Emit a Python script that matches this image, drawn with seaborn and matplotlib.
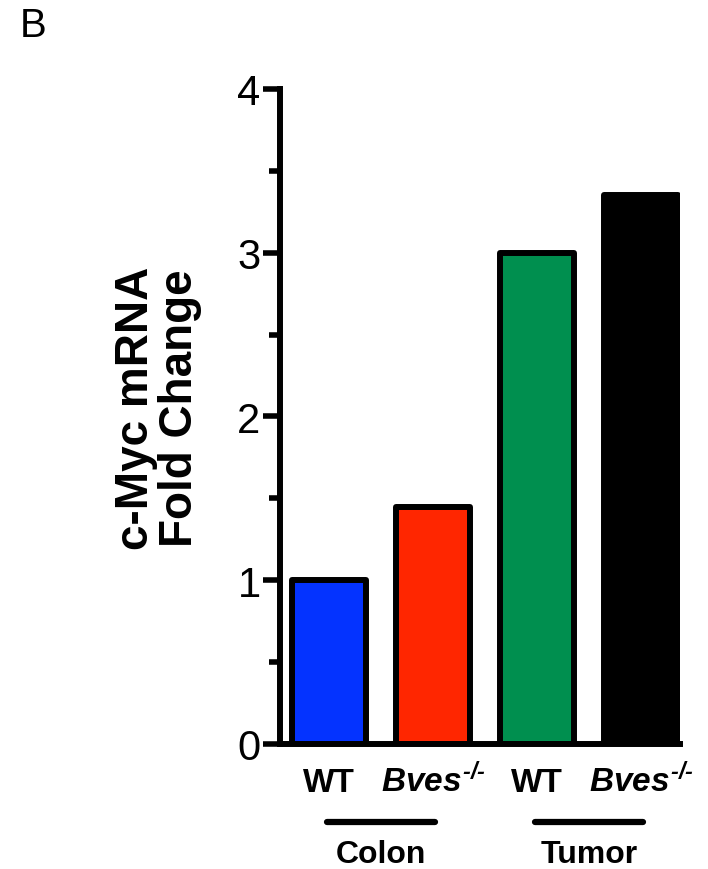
import matplotlib
matplotlib.use("Agg")
import matplotlib.pyplot as plt
import matplotlib.transforms as mtransforms
import seaborn as sns
import pandas as pd

# ==========================================
# DATA
# ==========================================

conditions = ["Colon WT", "Colon Bves-/-", "Tumor WT", "Tumor Bves-/-"]
fold_change = [1.0, 1.45, 3.0, 3.35]
tick_labels = ["WT", "$Bves^{\u2010/\u2010}$", "WT", "$Bves^{\u2010/\u2010}$"]
groups = ["Colon", "Tumor"]
group_members = [[0, 1], [2, 3]]
bar_colors = ["#0433FF", "#FF2600", "#008F4F", "#000000"]

df = pd.DataFrame({"condition": conditions, "fold": fold_change})

# ==========================================
# STYLE
# ==========================================

sns.set_style("white")
plt.rcParams["font.family"] = ["Liberation Sans", "DejaVu Sans"]
plt.rcParams["text.color"] = "black"
plt.rcParams["xtick.color"] = "black"
plt.rcParams["ytick.color"] = "black"
plt.rcParams["axes.labelcolor"] = "black"
plt.rcParams["mathtext.fontset"] = "custom"
plt.rcParams["mathtext.it"] = "Liberation Sans:italic:bold"
plt.rcParams["mathtext.rm"] = "Liberation Sans:italic:bold"
plt.rcParams["mathtext.bf"] = "Liberation Sans:italic:bold"

fig = plt.figure(figsize=(7.08, 8.7), dpi=100)
ax = fig.add_axes([0.3955, 0.1437, 0.5645, 0.7529])

sns.barplot(
    data=df,
    x="condition",
    y="fold",
    hue="condition",
    palette=bar_colors,
    order=conditions,
    hue_order=conditions,
    width=0.71,
    saturation=1,
    edgecolor="black",
    linewidth=4.3,
    legend=False,
    ax=ax
)

for patch in ax.patches:
    patch.set_joinstyle("round")

ax.set_xlim(-0.47, 3.37)
ax.set_ylim(0, 4)

# ==========================================
# AXES
# ==========================================

sns.despine(ax=ax, top=True, right=True)
ax.spines["left"].set_linewidth(4.3)
ax.spines["bottom"].set_linewidth(4.3)
ax.spines["left"].set_color("black")
ax.spines["bottom"].set_color("black")
ax.spines["left"].set_capstyle("projecting")

ax.set_yticks([0, 1, 2, 3, 4])
ax.set_yticks([0.5, 1.5, 2.5, 3.5], minor=True)
ax.tick_params(axis="y", which="major", direction="out", length=12,
               width=4, color="black", labelsize=30, pad=2, left=True)
ax.tick_params(axis="y", which="minor", direction="out", length=8,
               width=4, color="black", left=True)

ax.set_xticks(range(len(conditions)))
ax.set_xticklabels(tick_labels)
for lbl in ax.get_xticklabels():
    lbl.set_fontweight("bold")
    lbl.set_verticalalignment("baseline")
ax.tick_params(axis="x", length=0, labelsize=24, pad=34)

ax.set_xlabel("")
ax.set_ylabel("")

# group bars under the tick labels
trans = mtransforms.blended_transform_factory(ax.transData, ax.transAxes)
for name, members in zip(groups, group_members):
    center = sum(members) / len(members)
    ax.plot([center - 0.52, center + 0.52], [-0.119, -0.119],
            color="black", linewidth=4.5, solid_capstyle="round",
            transform=trans, clip_on=False)
    ax.text(center, -0.168, name, transform=trans, ha="center",
            va="center", fontsize=23, fontweight="bold")

fig.text(158 / 708, 1 - 408 / 870, "c-Myc mRNA\nFold Change",
         rotation=90, ha="center", va="center", multialignment="center",
         fontsize=33, fontweight="bold", linespacing=0.98)

fig.text(20 / 708, 1 - 26 / 870, "B", ha="left", va="center", fontsize=29)

plt.savefig("out.png", dpi=100)
plt.close()
